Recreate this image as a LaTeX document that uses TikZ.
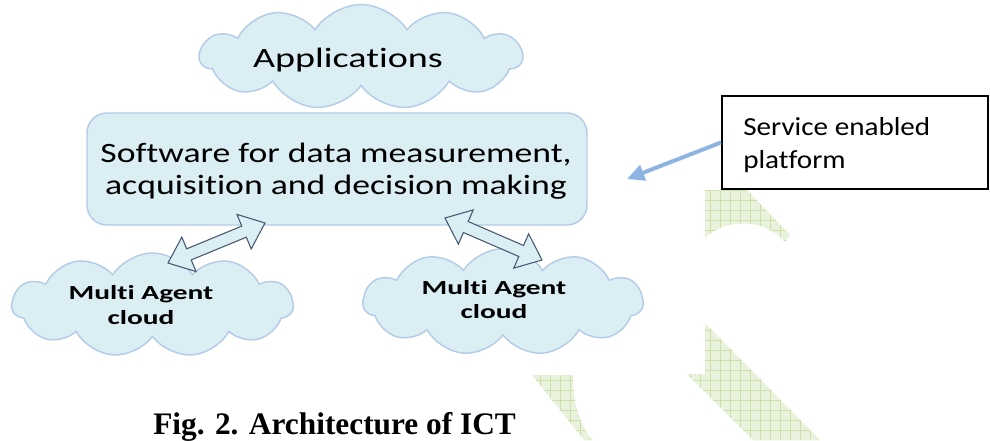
\documentclass[tikz,border=0pt]{standalone}
\usepackage{fontspec}
\usetikzlibrary{shapes.symbols,arrows.meta,calc}
\newfontfamily\appfont[FakeStretch=1.36,Ligatures=NoCommon]{Carlito}
\newfontfamily\swfont[FakeStretch=1.275,Ligatures=NoCommon]{Carlito}
\newfontfamily\mafont[FakeStretch=1.47,Ligatures=NoCommon]{Carlito}
\newfontfamily\svcfont[FakeStretch=1.12,Ligatures=NoCommon]{Carlito}
\newfontfamily\capfont{Liberation Serif}
\definecolor{cloudfill}{RGB}{219,238,244}
\definecolor{cloudline}{RGB}{180,204,232}
\definecolor{arrline}{RGB}{70,88,112}
\definecolor{ptrblue}{RGB}{142,180,227}
\definecolor{wmfill}{RGB}{233,242,220}
\definecolor{wmline}{RGB}{205,224,170}
\tikzset{
  cloudnode/.style={cloud, cloud puffs=11, cloud puff arc=115, draw=cloudline, fill=cloudfill, line width=1.1pt, inner sep=0pt},
  swbox/.style={rounded corners=15pt, draw=cloudline, fill=cloudfill, line width=1.1pt, inner sep=0pt},
  blockarrow/.style={draw=arrline, fill=cloudfill, line width=0.8pt, line join=miter},
  svcbox/.style={draw=black, fill=white, line width=1.5pt, inner sep=0pt},
  ptr/.style={draw=ptrblue, line width=3pt, -{Triangle[length=13pt,width=12pt]}},
  txt/.style={inner sep=0pt, text=black},
  wm/.style={fill=wmfill},
  wmgrid/.style={draw=wmline, line width=0.45pt}
}
\begin{document}
\begin{tikzpicture}[x=0.75pt,y=-0.75pt]
\useasboundingbox (0,0) rectangle (990,440);
% watermark pieces
\fill[wm] (705,190) -- (747,190) -- (790,235) -- (785,242) .. controls (765,218) and (725,218) .. (705,238) -- cycle;
\begin{scope}
\clip (705,190) -- (747,190) -- (790,235) -- (785,242) .. controls (765,218) and (725,218) .. (705,238) -- cycle;
\draw[wmgrid, step=7.5pt] (700,180) grid (800,250);
\end{scope}
\fill[wm] (705,323) -- (705,374) -- (687,374) -- (753,440) -- (820,440) -- cycle;
\begin{scope}
\clip (705,323) -- (705,374) -- (687,374) -- (753,440) -- (820,440) -- cycle;
\draw[wmgrid, step=7.5pt] (680,320) grid (830,440);
\end{scope}
\fill[wm] (532,375) -- (573,375) .. controls (572,400) and (580,425) .. (592,440) -- (584,440) -- cycle;
\begin{scope}
\clip (532,375) -- (573,375) .. controls (572,400) and (580,425) .. (592,440) -- (584,440) -- cycle;
\draw[wmgrid, step=7.5pt] (525,370) grid (600,440);
\end{scope}
% clouds
\node[cloudnode, minimum width=241.5pt, minimum height=78.75pt] (appcloud) at (361,57) {};
\node[txt, anchor=base, font=\appfont\fontsize{21}{25}\selectfont] (app) at (348,67) {Applications};
\node[cloudnode, minimum width=210.75pt, minimum height=78pt] (macl) at (152.5,305) {};
\node[txt, anchor=base, align=center, font=\mafont\bfseries\fontsize{15}{18.5}\selectfont] (matl) at (141,324) {Multi Agent\\cloud};
\node[cloudnode, minimum width=210pt, minimum height=80pt] (macr) at (503,302) {};
\node[txt, anchor=base, align=center, font=\mafont\bfseries\fontsize{15}{17.5}\selectfont] (matr) at (494,318) {Multi Agent\\cloud};
% software box
\node[swbox, minimum width=375pt, minimum height=84pt] (sw) at (337,169) {};
\node[txt, anchor=base, align=center, font=\swfont\fontsize{21}{24}\selectfont] (swt) at (336,194) {Software for data measurement,\\acquisition and decision making};
% block double arrows
\coordinate (la1) at (168,263);
\coordinate (la2) at (265,223);
\coordinate (ra1) at (445,218);
\coordinate (ra2) at (542,260);
\foreach \p/\q in {la1/la2, ra1/ra2}{
  \coordinate (ha) at ($(\p)!17pt!(\q)$);
  \coordinate (hb) at ($(\q)!17pt!(\p)$);
  \draw[blockarrow] (\p) -- ($(ha)!14pt!90:(\q)$) -- ($(ha)!4.5pt!90:(\q)$) -- ($(hb)!4.5pt!-90:(\p)$) -- ($(hb)!14pt!-90:(\p)$) -- (\q) -- ($(hb)!14pt!90:(\p)$) -- ($(hb)!4.5pt!90:(\p)$) -- ($(ha)!4.5pt!-90:(\q)$) -- ($(ha)!14pt!-90:(\q)$) -- cycle;
}
% service box
\node[svcbox, minimum width=199.5pt, minimum height=69.75pt] (svc) at (855,142.5) {};
\node[txt, anchor=base west, align=left, font=\svcfont\fontsize{19.5}{24.75}\selectfont] (svct) at (743,168) {Service enabled\\platform};
\coordinate (ptrtip) at (627,179);
\draw[ptr] (svc.west) -- (ptrtip);
% caption
\node[txt, anchor=base west, font=\capfont\bfseries\fontsize{23.5}{28}\selectfont] (cap) at (153,434) {Fig. 2. Architecture of ICT};
\end{tikzpicture}
\end{document}
